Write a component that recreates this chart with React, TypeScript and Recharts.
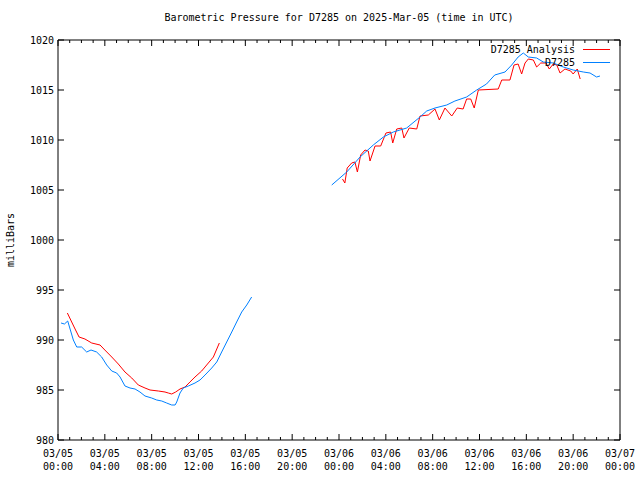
import { LineChart, Line, XAxis, YAxis, ReferenceArea, Legend } from 'recharts';

// hours since 2025-03-05 00:00 UTC
const analysisHours = [
  0.8, 1.17, 1.5, 1.8, 2.3, 2.88, 3.59, 4.0, 4.59, 5.15, 5.72, 6.3, 6.86, 7.43, 7.86, 8.57, 9.14, 9.42,
  9.71, 10.05, 10.42, 10.85, 11.27, 11.7, 12.27, 12.84, 13.27, 13.78,
  24.3, 24.5, 24.7, 25.08, 25.36, 25.57, 25.85, 26.22, 26.5, 26.65, 27.08, 27.56, 28.01, 28.41, 28.59,
  28.93, 29.36, 29.55, 30.0, 30.64, 30.92, 31.63, 32.2, 32.57, 33.05, 33.63, 34.1, 34.6, 34.9, 35.25,
  35.55, 35.9, 37.6, 37.9, 38.6, 38.95, 39.3, 39.6, 39.89, 40.17, 40.6, 40.88, 41.23, 41.68, 41.96,
  42.3, 42.6, 42.88, 43.3, 43.79, 44.0, 44.35, 44.6,
];
const analysisValues = [
  992.7, 991.8, 991.0, 990.3, 990.1, 989.7, 989.5, 989.0, 988.3, 987.6, 986.8, 986.2, 985.5, 985.2,
  985.0, 984.9, 984.8, 984.7, 984.6, 984.8, 985.1, 985.3, 985.8, 986.3, 986.9, 987.7, 988.3, 989.7,
  1006.1, 1005.7, 1007.2, 1007.7, 1007.8, 1006.8, 1008.5, 1009.0, 1008.9, 1007.9, 1009.4, 1009.4,
  1010.7, 1010.8, 1009.7, 1011.1, 1011.2, 1010.2, 1011.2, 1011.1, 1012.4, 1012.5, 1013.1, 1012.0,
  1013.2, 1012.4, 1013.2, 1013.1, 1014.1, 1014.1, 1013.2, 1015.0, 1015.1, 1016.0, 1016.0, 1017.5,
  1017.6, 1016.6, 1017.7, 1018.1, 1018.0, 1017.3, 1017.7, 1017.7, 1017.1, 1017.6, 1017.5, 1016.7,
  1017.1, 1016.9, 1016.6, 1017.1, 1016.1,
];

const stationHours = [
  0.26, 0.55, 0.83, 1.31, 1.6, 2.02, 2.45, 2.82, 3.3, 3.73, 4.16, 4.59, 5.01, 5.3, 5.72, 6.15, 6.58,
  7.0, 7.43, 8.0, 8.43, 8.86, 9.28, 9.71, 10.0, 10.14, 10.42, 10.7, 11.13, 11.7, 12.13, 12.56, 13.13,
  13.56, 13.98, 14.41, 14.84, 15.26, 15.69, 16.12, 16.54,
  23.38, 24.66, 25.8, 26.93, 27.79, 28.64, 29.78, 30.92, 31.49, 32.2, 33.2, 33.9, 34.9, 35.76, 36.6,
  37.3, 38.18, 38.75, 39.3, 39.74, 40.17, 40.88, 41.45, 42.3, 43.16, 44.0, 44.87, 45.44, 46.0, 46.29,
];
const stationValues = [
  991.7, 991.6, 991.9, 990.0, 989.3, 989.3, 988.8, 989.0, 988.8, 988.3, 987.5, 986.9, 986.7, 986.3,
  985.4, 985.2, 985.1, 984.8, 984.4, 984.2, 984.0, 983.9, 983.7, 983.5, 983.5, 983.8, 984.7, 985.2,
  985.4, 985.7, 986.0, 986.5, 987.2, 987.8, 988.8, 989.8, 990.8, 991.8, 992.8, 993.5, 994.3,
  1005.5, 1006.8, 1008.3, 1009.5, 1010.3, 1010.8, 1011.2, 1012.3, 1012.9, 1013.2, 1013.5, 1013.9,
  1014.3, 1015.0, 1015.6, 1016.5, 1016.8, 1017.5, 1018.3, 1018.7, 1018.3, 1018.2, 1017.8, 1017.7,
  1017.3, 1017.0, 1016.8, 1016.7, 1016.3, 1016.4,
];

const gapHour = 20;

const hourTicks = Array.from({ length: 49 }, (_, i) => i);
const majorHours = [0, 4, 8, 12, 16, 20, 24, 28, 32, 36, 40, 44, 48];
const dateLabels = ['03/05', '03/05', '03/05', '03/05', '03/05', '03/05', '03/06', '03/06', '03/06', '03/06', '03/06', '03/06', '03/07'];
const timeLabels = ['00:00', '04:00', '08:00', '12:00', '16:00', '20:00', '00:00', '04:00', '08:00', '12:00', '16:00', '20:00', '00:00'];
const yTicks = [980, 985, 990, 995, 1000, 1005, 1010, 1015, 1020];

const seriesNames = ['D7285 Analysis', 'D7285'];
const seriesColors = ['#ff0000', '#0080ff'];

const FONT = '"DejaVu Sans Mono", monospace';
const PLOT_W = 562;
const PLOT_H = 400;

function toPoints(hours: number[], values: number[]) {
  const pts: { h: number; p: number | null }[] = [];
  hours.forEach((h, i) => {
    if (i > 0 && hours[i - 1] < gapHour && h > gapHour) pts.push({ h: gapHour, p: null });
    pts.push({ h, p: values[i] });
  });
  return pts;
}

const analysisData = toPoints(analysisHours, analysisValues);
const stationData = toPoints(stationHours, stationValues);

const XTick = (props: any) => {
  const { x, y, payload } = props;
  const idx = majorHours.indexOf(payload.value);
  const len = idx >= 0 ? 6 : 3;
  return (
    <g>
      <line x1={x} y1={y} x2={x} y2={y - len} stroke="#000" />
      <line x1={x} y1={y - PLOT_H} x2={x} y2={y - PLOT_H + len} stroke="#000" />
      {idx >= 0 && (
        <text x={x} y={y + 17} textAnchor="middle" fontFamily={FONT} fontSize={10} fill="#000">
          <tspan x={x}>{dateLabels[idx]}</tspan>
          <tspan x={x} dy={13}>{timeLabels[idx]}</tspan>
        </text>
      )}
    </g>
  );
};

const YTick = (props: any) => {
  const { x, y, payload } = props;
  return (
    <g>
      <line x1={x} y1={y} x2={x + 6} y2={y} stroke="#000" />
      <line x1={x + PLOT_W} y1={y} x2={x + PLOT_W - 6} y2={y} stroke="#000" />
      <text x={x - 4} y={y + 4} textAnchor="end" fontFamily={FONT} fontSize={10} fill="#000">
        {payload.value}
      </text>
    </g>
  );
};

const LegendBox = () => (
  <div style={{ fontFamily: FONT, fontSize: 10, lineHeight: '13px' }}>
    {seriesNames.map((name, i) => (
      <div key={name} style={{ display: 'flex', justifyContent: 'flex-end', alignItems: 'center' }}>
        <span>{name}</span>
        <span style={{ display: 'inline-block', width: 27, height: 1, background: seriesColors[i], marginLeft: 8 }} />
      </div>
    ))}
  </div>
);

export default function App() {
  return (
    <div style={{ position: 'relative', width: 640, height: 480, background: '#fff' }}>
      <style>{`body { margin: 0; }`}</style>
      <div
        style={{
          position: 'absolute', left: 58, width: PLOT_W, top: 12, textAlign: 'center',
          fontFamily: FONT, fontSize: 10, color: '#000',
        }}
      >
        Barometric Pressure for D7285 on 2025-Mar-05 (time in UTC)
      </div>
      <div
        style={{
          position: 'absolute', left: 10, top: 240, transform: 'translate(-50%, -50%) rotate(-90deg)',
          fontFamily: FONT, fontSize: 10, color: '#000', whiteSpace: 'nowrap',
        }}
      >
        milliBars
      </div>
      <LineChart width={640} height={480} margin={{ top: 40, right: 20, bottom: 39, left: 57 }}>
        <XAxis
          dataKey="h"
          type="number"
          domain={[0, 48]}
          ticks={hourTicks}
          interval={0}
          height={1}
          tickSize={0}
          tickMargin={0}
          tickLine={false}
          axisLine={false}
          tick={<XTick />}
          allowDuplicatedCategory={false}
        />
        <YAxis
          type="number"
          domain={[980, 1020]}
          ticks={yTicks}
          interval={0}
          width={1}
          tickSize={0}
          tickMargin={0}
          tickLine={false}
          axisLine={false}
          tick={<YTick />}
        />
        <ReferenceArea x1={0} x2={48} y1={980} y2={1020} fill="none" stroke="#000" strokeWidth={1} />
        <Line
          data={analysisData}
          dataKey="p"
          name={seriesNames[0]}
          stroke={seriesColors[0]}
          strokeWidth={1}
          dot={false}
          connectNulls={false}
          type="linear"
          isAnimationActive={false}
        />
        <Line
          data={stationData}
          dataKey="p"
          name={seriesNames[1]}
          stroke={seriesColors[1]}
          strokeWidth={1}
          dot={false}
          connectNulls={false}
          type="linear"
          isAnimationActive={false}
        />
        <Legend
          content={<LegendBox />}
          layout="horizontal"
          verticalAlign="middle"
          align="center"
          wrapperStyle={{ top: 43, right: 30, left: 'auto', width: 'auto' }}
        />
      </LineChart>
    </div>
  );
}
